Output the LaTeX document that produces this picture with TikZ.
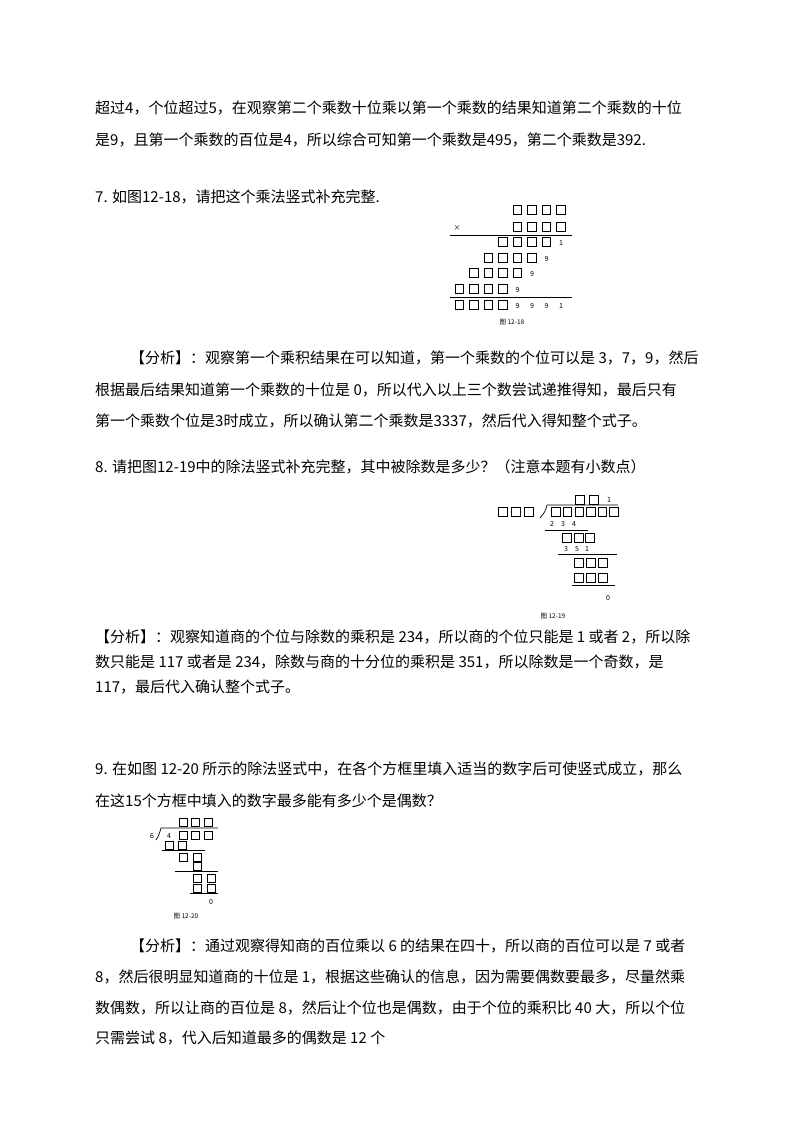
\documentclass[tikz,border=0pt]{standalone}
\usepackage{fontspec}
\setmainfont{Noto Sans CJK SC}
\begin{document}
\begin{tikzpicture}[x=1pt,y=-1pt,
  txt/.style={anchor=base west,inner sep=0pt,font=\fontsize{15}{15}\selectfont},
  bx/.style={draw,line width=0.8pt,minimum size=8.5pt,inner sep=0pt},
  sbx/.style={draw,line width=0.8pt,minimum size=8pt,inner sep=0pt},
  dg/.style={inner sep=0pt,font=\fontsize{7}{7}\selectfont},
  figcap/.style={inner sep=0pt,font=\fontsize{6.5}{6.5}\selectfont},
  rl/.style={line width=0.7pt}]
\useasboundingbox[fill=white] (0,0) rectangle (800,1132);
% ---- text ----
\node[txt] (t1) at (95,113) {超过4，个位超过5，在观察第二个乘数十位乘以第一个乘数的结果知道第二个乘数的十位};
\node[txt] (t2) at (95,145) {是9，且第一个乘数的百位是4，所以综合可知第一个乘数是495，第二个乘数是392.};
\node[txt] (t3) at (95,202) {7. 如图12-18，请把这个乘法竖式补充完整.};
\node[txt] (t4) at (130,363) {【分析】：观察第一个乘积结果在可以知道，第一个乘数的个位可以是 3，7，9，然后};
\node[txt] (t5) at (95,395) {根据最后结果知道第一个乘数的十位是 0，所以代入以上三个数尝试递推得知，最后只有};
\node[txt] (t6) at (95,426) {第一个乘数个位是3时成立，所以确认第二个乘数是3337，然后代入得知整个式子。};
\node[txt] (t7) at (95,472) {8. 请把图12-19中的除法竖式补充完整，其中被除数是多少？（注意本题有小数点）};
\node[txt] (t8) at (95,642) {【分析】：观察知道商的个位与除数的乘积是 234，所以商的个位只能是 1 或者 2，所以除};
\node[txt] (t9) at (95,667) {数只能是 117 或者是 234，除数与商的十分位的乘积是 351，所以除数是一个奇数，是};
\node[txt] (t10) at (95,692) {117，最后代入确认整个式子。};
\node[txt] (t11) at (95,774) {9. 在如图 12-20 所示的除法竖式中，在各个方框里填入适当的数字后可使竖式成立，那么};
\node[txt] (t12) at (95,806) {在这15个方框中填入的数字最多能有多少个是偶数？};
\node[txt] (t13) at (130,951) {【分析】：通过观察得知商的百位乘以 6 的结果在四十，所以商的百位可以是 7 或者};
\node[txt] (t14) at (95,982) {8，然后很明显知道商的十位是 1，根据这些确认的信息，因为需要偶数要最多，尽量然乘};
\node[txt] (t15) at (95,1013) {数偶数，所以让商的百位是 8，然后让个位也是偶数，由于个位的乘积比 40 大，所以个位};
\node[txt] (t16) at (95,1043) {只需尝试 8，代入后知道最多的偶数是 12 个};
% ---- figure 12-18 ----
\def\cx#1{561-14.5*#1}
\foreach \k in {0,...,3}{\node[bx] (a1\k) at ({\cx{\k}},210) {}; \node[bx] (a2\k) at ({\cx{\k}},227) {};}
\node[dg] (ax) at (457,228) {×};
\draw[rl] (450,235) -- (572,235);
\foreach \k in {1,...,4}{\node[bx] (a3\k) at ({\cx{\k}},242) {};}
\node[dg] (a30) at ({\cx{0}},243) {1};
\foreach \k in {2,...,5}{\node[bx] (a4\k) at ({\cx{\k}},258) {};}
\node[dg] (a41) at ({\cx{1}},259) {9};
\foreach \k in {3,...,6}{\node[bx] (a5\k) at ({\cx{\k}},273) {};}
\node[dg] (a52) at ({\cx{2}},274) {9};
\foreach \k in {4,...,7}{\node[bx] (a6\k) at ({\cx{\k}},289) {};}
\node[dg] (a63) at ({\cx{3}},290) {9};
\draw[rl] (450,297) -- (572,297);
\foreach \k in {4,...,7}{\node[bx] (a7\k) at ({\cx{\k}},305) {};}
\foreach \k/\d in {3/9,2/9,1/9,0/1}{\node[dg] (a7\k) at ({\cx{\k}},306) {\d};}
\node[figcap] (c18) at (512,322) {图 12-18};
% ---- figure 12-19 ----
\node[bx] (q2) at (580,500) {};
\node[bx] (q1) at (594,500) {};
\node[dg] (q0) at (609,500) {1};
\draw[rl] (540,518) .. controls (545,512) .. (547,505) -- (618,505);
\foreach \x [count=\i] in {503,516,529}{\node[bx] (dv\i) at (\x,512) {};}
\foreach \x [count=\i] in {556,567.6,579.2,590.8,602.4,614}{\node[bx] (dd\i) at (\x,512) {};}
\foreach \x/\d [count=\i] in {552/2,563/3,574/4}{\node[dg] (p\i) at (\x,524) {\d};}
\draw[rl] (545,530) -- (588,530);
\foreach \x [count=\i] in {567,579,590}{\node[bx] (r\i) at (\x,538) {};}
\foreach \x/\d [count=\i] in {566/3,577/5,587/1}{\node[dg] (s\i) at (\x,549) {\d};}
\draw[rl] (558,554) -- (617,554);
\foreach \x [count=\i] in {579,591,603}{\node[bx] (u\i) at (\x,563) {}; \node[bx] (v\i) at (\x,578) {};}
\draw[rl] (572,585) -- (615,585);
\node[dg] (z19) at (608,598) {0};
\node[figcap] (c19) at (553,616) {图 12-19};
% ---- figure 12-20 ----
\foreach \x [count=\i] in {183,195.5,208}{\node[sbx] (e\i) at (\x,822) {}; \node[sbx] (f\i) at (\x,835) {};}
\draw[rl] (156,840) .. controls (159,835) .. (161,828) -- (218,828);
\node[dg] (six) at (152,836) {6};
\node[dg] (four) at (169,836) {4};
\node[sbx] (g1) at (169,845.6) {};
\node[sbx] (g2) at (182,845.6) {};
\draw[rl] (162,850.6) -- (205,850.6);
\node[sbx] (h1) at (183,857) {};
\node[sbx] (h2) at (197,857) {};
\node[sbx] (i1) at (197,866) {};
\draw[rl] (175,871.5) -- (218,871.5);
\node[sbx] (j1) at (197,878) {};
\node[sbx] (j2) at (211,878) {};
\node[sbx] (k1) at (197,888) {};
\node[sbx] (k2) at (211,888) {};
\draw[rl] (190,893.5) -- (218,893.5);
\node[dg] (z20) at (211,902) {0};
\node[figcap] (c20) at (186,916) {图 12-20};
\end{tikzpicture}
\end{document}
